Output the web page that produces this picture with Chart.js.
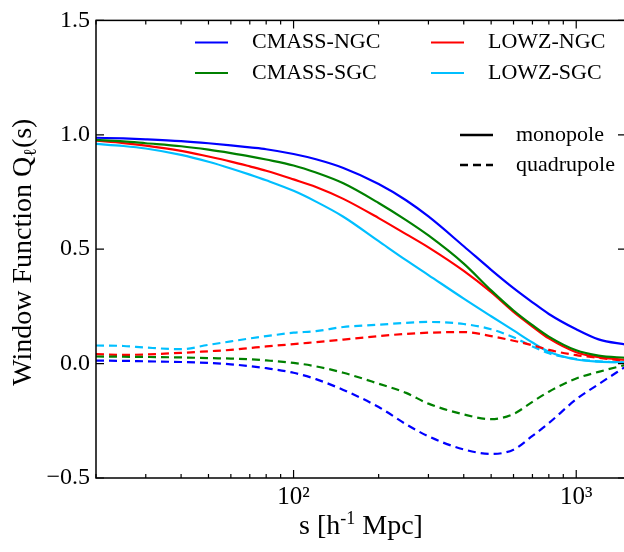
<!DOCTYPE html>
<html>
<head>
<meta charset="utf-8">
<script src="https://cdn.jsdelivr.net/npm/chart.js@4.4.1/dist/chart.umd.min.js"></script>
<style>
  html, body { margin: 0; padding: 0; background: #fff; overflow: hidden; }
  #wrap { width: 626px; height: 552px; }
</style>
</head>
<body>
<div id="wrap"><canvas id="ventanaChart"></canvas></div>
<script>
// Separaciones s en h^-1 Mpc
const sValues = [20, 25, 30, 40, 50, 60, 70, 80, 100, 120, 150, 200, 250, 300, 400, 500, 600, 700, 800, 1000, 1200, 1500];

// Monopolos Q0(s)
const cmassNgcMono = [0.987, 0.984, 0.980, 0.972, 0.963, 0.954, 0.945, 0.937, 0.916, 0.893, 0.855, 0.785, 0.714, 0.643, 0.513, 0.410, 0.330, 0.268, 0.217, 0.150, 0.106, 0.083];
const cmassSgcMono = [0.978, 0.971, 0.963, 0.950, 0.935, 0.920, 0.906, 0.892, 0.866, 0.835, 0.788, 0.702, 0.627, 0.560, 0.437, 0.320, 0.232, 0.168, 0.118, 0.058, 0.035, 0.025];
const lowzNgcMono  = [0.974, 0.964, 0.953, 0.930, 0.905, 0.883, 0.862, 0.843, 0.805, 0.772, 0.720, 0.636, 0.566, 0.508, 0.405, 0.312, 0.226, 0.162, 0.110, 0.050, 0.028, 0.016];
const lowzSgcMono  = [0.960, 0.951, 0.940, 0.912, 0.882, 0.853, 0.826, 0.801, 0.755, 0.708, 0.642, 0.535, 0.452, 0.387, 0.284, 0.207, 0.145, 0.092, 0.052, 0.018, 0.009, 0.005];

// Cuadrupolos Q2(s)
const cmassNgcQuad = [0.013, 0.012, 0.010, 0.007, 0.003, -0.003, -0.011, -0.020, -0.040, -0.068, -0.115, -0.190, -0.265, -0.318, -0.375, -0.395, -0.376, -0.316, -0.260, -0.156, -0.090, -0.012];
const cmassSgcQuad = [0.031, 0.030, 0.029, 0.027, 0.024, 0.022, 0.019, 0.014, 0.003, -0.012, -0.040, -0.088, -0.128, -0.175, -0.222, -0.243, -0.220, -0.167, -0.123, -0.065, -0.036, -0.005];
const lowzNgcQuad  = [0.041, 0.038, 0.040, 0.047, 0.054, 0.060, 0.068, 0.075, 0.085, 0.094, 0.105, 0.120, 0.130, 0.135, 0.138, 0.120, 0.100, 0.080, 0.060, 0.037, 0.025, 0.012];
const lowzSgcQuad  = [0.079, 0.077, 0.070, 0.063, 0.082, 0.097, 0.110, 0.120, 0.135, 0.142, 0.160, 0.170, 0.178, 0.182, 0.173, 0.150, 0.115, 0.075, 0.045, 0.020, 0.010, 0.004];

const muestras = ['CMASS-NGC', 'CMASS-SGC', 'LOWZ-NGC', 'LOWZ-SGC'];
const colores = ['#0000ff', '#008000', '#ff0000', '#00bfff'];
const monopolos = [cmassNgcMono, cmassSgcMono, lowzNgcMono, lowzSgcMono];
const cuadrupolos = [cmassNgcQuad, cmassSgcQuad, lowzNgcQuad, lowzSgcQuad];
const estilos = ['monopole', 'quadrupole'];

const serif = '"Liberation Serif", "Times New Roman", serif';
const guion = [8, 5];

Chart.defaults.font.family = serif;
Chart.defaults.color = '#000';

const puntos = serie => serie.map((y, i) => ({ x: sValues[i], y }));

const datasets = [];
muestras.forEach((nombre, i) => {
    datasets.push({ label: nombre, data: puntos(monopolos[i]), borderColor: colores[i], borderWidth: 2.2 });
    datasets.push({ label: nombre + ' quad', data: puntos(cuadrupolos[i]), borderColor: colores[i], borderWidth: 2.2, borderDash: guion });
});

// Marco con ticks hacia dentro en los cuatro lados
const marco = {
    id: 'marco',
    afterDraw(chart) {
        const { ctx, chartArea: a, scales: { x, y } } = chart;
        ctx.save();
        ctx.strokeStyle = '#000';
        ctx.lineWidth = 1.5;
        ctx.strokeRect(a.left, a.top, a.right - a.left, a.bottom - a.top);
        ctx.lineWidth = 1.2;
        ctx.beginPath();
        x.ticks.forEach(t => {
            const e = Math.floor(Math.log10(t.value) + 1e-9);
            const m = t.value / Math.pow(10, e);
            if (Math.abs(m - Math.round(m)) > 1e-6) return;
            const largo = Math.round(m) === 1 ? 8 : 4;
            const px = x.getPixelForValue(t.value);
            ctx.moveTo(px, a.bottom); ctx.lineTo(px, a.bottom - largo);
            ctx.moveTo(px, a.top); ctx.lineTo(px, a.top + largo);
        });
        y.ticks.forEach(t => {
            const py = y.getPixelForValue(t.value);
            ctx.moveTo(a.left, py); ctx.lineTo(a.left + 8, py);
            ctx.moveTo(a.right, py); ctx.lineTo(a.right - 8, py);
        });
        ctx.stroke();
        ctx.restore();
    }
};

// Texto con partes de distinto tamaño (sub/superíndices)
function textoCompuesto(ctx, partes, cx, cy) {
    let total = 0;
    partes.forEach(p => { ctx.font = p.font; total += ctx.measureText(p.t).width; });
    let xx = cx - total / 2;
    partes.forEach(p => {
        ctx.font = p.font;
        ctx.fillText(p.t, xx, cy + p.dy);
        xx += ctx.measureText(p.t).width;
    });
}

const titulos = {
    id: 'titulos',
    afterDraw(chart) {
        const { ctx, chartArea: a } = chart;
        const grande = '28px ' + serif, chico = '18px ' + serif;
        ctx.save();
        ctx.fillStyle = '#000';
        ctx.textAlign = 'left';
        ctx.textBaseline = 'alphabetic';
        textoCompuesto(ctx, [
            { t: 's [h', font: grande, dy: 0 },
            { t: '-1', font: chico, dy: -10 },
            { t: ' Mpc]', font: grande, dy: 0 }
        ], (a.left + a.right) / 2, 534);
        ctx.translate(31, (a.top + a.bottom) / 2 + 3);
        ctx.rotate(-Math.PI / 2);
        textoCompuesto(ctx, [
            { t: 'Window Function Q', font: grande, dy: 0 },
            { t: 'ℓ', font: chico, dy: 5 },
            { t: '(s)', font: grande, dy: 0 }
        ], 0, 0);
        ctx.restore();
    }
};

// Leyendas: muestras en dos columnas y estilo de línea
const leyenda = {
    id: 'leyenda',
    afterDraw(chart) {
        const ctx = chart.ctx;
        ctx.save();
        ctx.font = '22px ' + serif;
        ctx.textBaseline = 'middle';
        ctx.fillStyle = '#000';
        const cols = [195, 431], filas = [42.5, 73];
        muestras.forEach((nombre, i) => {
            const lx = cols[i < 2 ? 0 : 1], ly = filas[i % 2];
            ctx.strokeStyle = colores[i];
            ctx.lineWidth = 2.2;
            ctx.beginPath(); ctx.moveTo(lx, ly); ctx.lineTo(lx + 33, ly); ctx.stroke();
            ctx.fillText(nombre, lx + 57, ly);
        });
        estilos.forEach((nombre, i) => {
            const ly = 135 + i * 30;
            ctx.strokeStyle = '#000';
            ctx.lineWidth = 2.6;
            ctx.setLineDash(i === 0 ? [] : guion);
            ctx.beginPath(); ctx.moveTo(460, ly); ctx.lineTo(493, ly); ctx.stroke();
            ctx.fillText(nombre, 516, ly);
        });
        ctx.restore();
    }
};

const ctx = document.getElementById('ventanaChart').getContext('2d');
const ventanaChart = new Chart(ctx, {
    type: 'line',
    data: { datasets },
    options: {
        responsive: true,
        maintainAspectRatio: false,
        animation: false,
        layout: { padding: { top: 15, right: 0, left: 0, bottom: 0 } },
        elements: { point: { radius: 0 }, line: { cubicInterpolationMode: 'monotone', fill: false } },
        plugins: { legend: { display: false }, tooltip: { enabled: false } },
        scales: {
            x: {
                type: 'logarithmic',
                min: 20,
                max: 1500,
                grid: { display: false, drawTicks: false },
                border: { display: false },
                afterBuildTicks: scale => {
                    const ticks = [];
                    for (let e = 1; e <= 3; e++) {
                        for (let m = 1; m <= 9; m++) {
                            const v = m * Math.pow(10, e);
                            if (v >= 20 && v <= 1500) ticks.push({ value: v });
                        }
                    }
                    scale.ticks = ticks;
                },
                afterFit: scale => { scale.height = 74; },
                ticks: {
                    autoSkip: false,
                    maxRotation: 0,
                    padding: 4,
                    font: { size: 25 },
                    callback: v => (v === 100 ? '10²' : v === 1000 ? '10³' : '')
                }
            },
            y: {
                min: -0.5,
                max: 1.5,
                grid: { display: false, drawTicks: false },
                border: { display: false },
                afterFit: scale => { scale.width = 96; },
                ticks: {
                    stepSize: 0.5,
                    padding: 6,
                    font: { size: 24 },
                    callback: v => v.toFixed(1).replace('-', '−')
                }
            }
        }
    },
    plugins: [marco, titulos, leyenda]
});
</script>
</body>
</html>
